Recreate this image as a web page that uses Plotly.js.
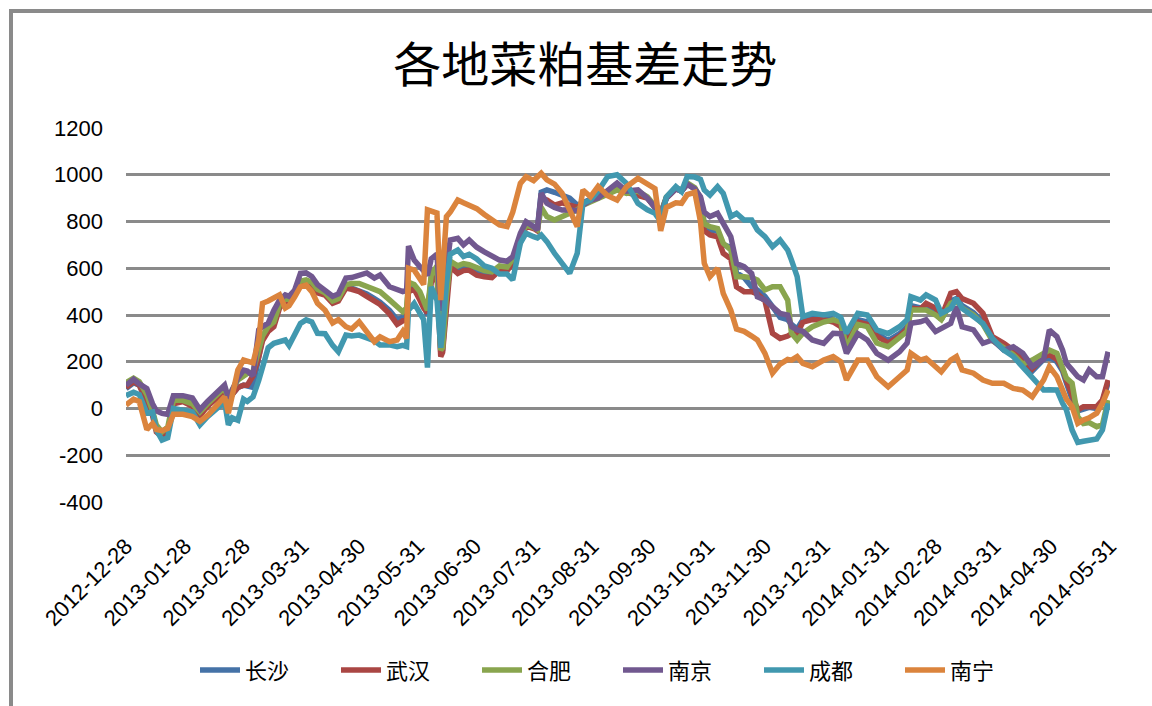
<!DOCTYPE html>
<html>
<head>
<meta charset="utf-8">
<script src="https://cdn.plot.ly/plotly-3.0.1.min.js"></script>
<style>
  html, body { margin: 0; padding: 0; background: #fff; overflow: hidden; }
  #chart { width: 1152px; height: 706px; }
  #frame { position: absolute; left: 9px; top: 9px; width: 1300px; height: 900px;
           border: 4px solid #8a8a8a; pointer-events: none; box-sizing: border-box; }
</style>
</head>
<body>
<div id="chart"></div>
<div id="frame"></div>
<script>
// ---- data ----
const dates = [
 "2012-12-28","2013-01-01","2013-01-04","2013-01-08","2013-01-11","2013-01-13","2013-01-16","2013-01-19","2013-01-22","2013-01-27",
 "2013-02-01","2013-02-05","2013-02-09","2013-02-14","2013-02-18","2013-02-20","2013-02-22","2013-02-25","2013-02-28","2013-03-02",
 "2013-03-05","2013-03-08","2013-03-10","2013-03-13","2013-03-16","2013-03-19","2013-03-22","2013-03-24","2013-03-27","2013-03-30",
 "2013-04-02","2013-04-05","2013-04-08","2013-04-12","2013-04-16","2013-04-19","2013-04-23","2013-04-26","2013-04-30","2013-05-04",
 "2013-05-08","2013-05-11","2013-05-16","2013-05-20","2013-05-23","2013-05-25","2013-05-26","2013-05-29","2013-06-01","2013-06-03",
 "2013-06-05","2013-06-07","2013-06-10","2013-06-12","2013-06-13","2013-06-15","2013-06-17","2013-06-21","2013-06-24","2013-06-27",
 "2013-07-01","2013-07-05","2013-07-09","2013-07-13","2013-07-17","2013-07-20","2013-07-24","2013-07-27","2013-07-31","2013-08-02",
 "2013-08-04","2013-08-07","2013-08-11","2013-08-15","2013-08-19","2013-08-23","2013-08-26","2013-08-30","2013-09-03","2013-09-08",
 "2013-09-13","2013-09-18","2013-09-24","2013-09-29","2013-10-03","2013-10-06","2013-10-09","2013-10-14","2013-10-17","2013-10-20",
 "2013-10-24","2013-10-27","2013-10-29","2013-11-01","2013-11-05","2013-11-08","2013-11-12","2013-11-15","2013-11-19","2013-11-23",
 "2013-11-26","2013-11-30","2013-12-04","2013-12-08","2013-12-12","2013-12-14","2013-12-17","2013-12-20","2013-12-25","2013-12-31",
 "2014-01-05","2014-01-09","2014-01-12","2014-01-18","2014-01-23","2014-01-28","2014-02-03","2014-02-09","2014-02-13","2014-02-15",
 "2014-02-20","2014-02-23","2014-02-28","2014-03-03","2014-03-08","2014-03-11","2014-03-14","2014-03-20","2014-03-25","2014-03-30",
 "2014-04-05","2014-04-10","2014-04-15","2014-04-20","2014-04-26","2014-04-29","2014-05-03","2014-05-06","2014-05-08","2014-05-11",
 "2014-05-14","2014-05-17","2014-05-20","2014-05-24","2014-05-27","2014-05-30"
];

const changsha = [
 85,110,100,40,-20,-80,-115,-100,30,40,
 20,-20,20,50,85,30,60,90,100,95,
 90,220,300,340,370,440,470,460,490,540,
 545,530,500,490,455,465,520,515,505,490,
 470,455,420,380,390,400,530,520,480,440,
 400,560,600,240,250,470,620,600,610,605,
 590,580,570,600,600,630,730,790,780,770,
 925,935,925,915,900,870,880,895,910,930,
 940,930,920,900,860,830,900,940,930,960,
 940,890,790,760,760,700,690,580,560,520,
 507,480,436,390,380,360,340,380,390,400,
 380,360,290,380,370,320,290,320,350,440,
 430,440,420,380,460,470,440,410,370,300,
 270,240,200,160,210,220,200,160,110,40,
 -10,0,5,0,30,110
];
const wuhan = [
 90,115,100,20,-30,-100,-121,-110,20,30,
 10,-30,10,45,80,25,60,90,100,100,
 140,220,290,330,350,430,460,450,485,535,
 540,525,495,485,450,460,515,510,500,480,
 460,445,405,360,375,380,500,510,464,430,
 410,540,580,222,240,464,607,578,590,592,
 570,564,560,590,590,620,720,780,770,760,
 900,892,870,880,870,860,875,890,905,925,
 935,925,915,900,860,830,900,940,930,960,
 940,885,760,742,735,664,640,521,500,500,
 490,460,322,300,310,320,320,370,380,380,
 370,350,280,370,360,310,280,310,340,430,
 425,450,430,390,493,500,470,450,407,307,
 279,250,210,170,220,230,210,170,120,50,
 -6,8,10,8,36,122
];
const hefei = [
 110,130,115,60,-10,-70,-100,-80,35,35,
 20,-15,20,55,90,35,80,122,140,150,
 160,250,310,350,370,445,475,465,500,545,
 550,540,510,495,460,470,530,535,535,520,
 505,500,465,436,414,430,540,530,500,460,
 420,570,610,250,260,480,630,610,620,615,
 600,590,585,610,605,640,735,785,775,765,
 860,821,806,820,830,850,870,885,900,921,
 935,920,930,905,865,835,905,945,935,965,
 945,900,790,778,770,707,678,564,564,560,
 550,507,521,521,464,322,293,322,350,370,
 379,370,260,360,350,280,264,300,330,421,
 421,421,400,380,450,460,430,400,360,290,
 260,230,190,207,236,250,236,165,130,108,
 -35,-64,-60,-78,-70,36
];
const nanjing = [
 100,125,105,85,20,-10,-21,-25,55,55,
 45,-5,30,70,100,45,80,130,164,160,
 140,336,350,365,420,464,486,480,507,578,
 580,565,530,505,480,490,558,560,571,580,
 558,571,521,507,500,505,695,635,607,590,
 570,640,660,420,440,592,721,728,700,721,
 690,670,650,635,630,650,750,799,778,764,
 921,878,860,849,850,845,870,890,900,935,
 964,930,935,900,860,830,900,940,930,960,
 940,906,840,821,835,790,735,620,607,578,
 478,464,436,407,400,350,336,330,293,279,
 322,320,236,320,293,236,207,243,280,365,
 371,380,329,340,364,436,350,336,279,293,
 250,264,236,179,210,336,307,250,193,165,
 136,122,165,136,136,243
];
const chengdu = [
 55,70,60,-20,-15,-92,-135,-125,0,-5,
 -15,-70,-35,0,30,-70,-40,-50,40,30,
 50,120,179,260,279,285,293,270,322,364,
 379,370,322,320,270,243,314,310,314,300,
 290,272,272,264,270,265,420,450,407,380,
 175,520,464,260,330,536,660,678,650,660,
 640,610,600,575,575,550,707,750,735,730,
 742,714,664,621,578,664,878,892,930,992,
 1000,963,878,850,835,800,905,949,928,992,
 990,980,935,913,949,920,821,835,806,806,
 764,735,692,721,678,635,564,393,407,400,
 407,390,322,407,400,336,320,350,380,478,
 464,486,464,407,428,471,428,393,364,300,
 250,222,179,136,79,80,79,22,-6,-92,
 -145,-140,-135,-130,-92,22
];
const nanning = [
 15,40,30,-90,-64,-90,-95,-85,-25,-25,
 -35,-55,-30,15,50,-20,60,165,207,200,
 195,293,450,460,470,486,430,440,478,521,
 528,500,450,420,366,380,350,340,371,330,
 286,307,286,293,330,300,600,592,550,530,
 850,845,836,464,600,821,840,892,880,870,
 855,830,806,785,778,840,963,992,975,990,
 1006,978,960,921,849,778,935,906,950,910,
 892,949,985,960,940,760,860,880,878,915,
 925,800,621,564,600,493,420,340,330,310,
 293,236,151,190,210,207,222,193,179,207,
 222,200,122,207,207,136,93,136,165,236,
 207,215,179,157,207,222,165,151,122,108,
 108,86,79,50,122,179,136,79,40,8,
 -64,-49,-40,-20,22,79
];

const seriesNames = ["长沙","武汉","合肥","南京","成都","南宁"];
const seriesValues = [changsha, wuhan, hefei, nanjing, chengdu, nanning];
const seriesColors = ["#4572A7","#AA4643","#89A54E","#71588F","#4198AF","#DB843D"];

const tickDates = ["2012-12-28","2013-01-28","2013-02-28","2013-03-31","2013-04-30","2013-05-31",
  "2013-06-30","2013-07-31","2013-08-31","2013-09-30","2013-10-31","2013-11-30","2013-12-31",
  "2014-01-31","2014-02-28","2014-03-31","2014-04-30","2014-05-31"];
const yTickVals = [-400,-200,0,200,400,600,800,1000,1200];
const yTickText = ["-400","-200","0","200","400","600","800","1000","1200"];

const traces = seriesNames.map((name, i) => ({
  type: "scatter",
  mode: "lines",
  name: name,
  x: dates,
  y: seriesValues[i],
  line: { color: seriesColors[i], width: 5.5 },
  hoverinfo: "x+y+name"
}));

const numFont = "Liberation Sans, Arial, sans-serif";
const cjkFont = "Noto Sans CJK SC, sans-serif";

const layout = {
  width: 1152, height: 706,
  paper_bgcolor: "#ffffff", plot_bgcolor: "#ffffff",
  margin: { l: 126, r: 42, t: 128, b: 204 },
  title: {
    text: "各地菜粕基差走势",
    font: { family: cjkFont, size: 48, color: "#000000" },
    xref: "container", yref: "container",
    x: 0.508, xanchor: "center", y: 0.908, yanchor: "middle"
  },
  xaxis: {
    type: "date",
    range: ["2012-12-28", "2014-05-31"],
    tickmode: "array",
    tickvals: tickDates,
    ticktext: tickDates,
    tickangle: -45,
    tickfont: { family: numFont, size: 22, color: "#000000" },
    showgrid: false,
    showline: false,
    zeroline: false,
    ticks: "",
    ticklabelstandoff: 26
  },
  yaxis: {
    range: [-400, 1200],
    tickmode: "array",
    tickvals: yTickVals,
    ticktext: yTickText,
    tickfont: { family: numFont, size: 22, color: "#000000" },
    showgrid: true,
    gridcolor: "#8a8a8a",
    gridwidth: 3,
    zeroline: false,
    showline: false,
    ticks: "",
    ticklabelstandoff: 22
  },
  showlegend: true,
  legend: {
    orientation: "h",
    x: 0.50, xanchor: "center",
    y: -0.45, yanchor: "middle",
    font: { family: cjkFont, size: 22, color: "#000000" },
    entrywidth: 86,
    entrywidthmode: "pixels",
    itemwidth: 40,
    traceorder: "normal",
    bgcolor: "rgba(0,0,0,0)"
  },
  hovermode: "closest"
};

Plotly.newPlot("chart", traces, layout, { displayModeBar: false });
</script>
</body>
</html>
